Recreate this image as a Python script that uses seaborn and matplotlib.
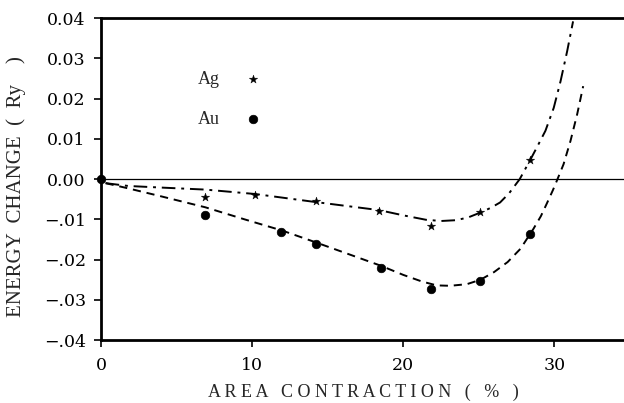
import matplotlib
matplotlib.use("Agg")
import matplotlib.pyplot as plt
import seaborn as sns

# measured points (area contraction %, energy change Ry)
ag_x = [6.9, 10.2, 14.2, 18.4, 21.8, 25.1, 28.4]
ag_y = [-0.0045, -0.0040, -0.0055, -0.0079, -0.0117, -0.0082, 0.0047]
au_x = [0.0, 6.9, 11.9, 14.2, 18.5, 21.8, 25.1, 28.4]
au_y = [0.0, -0.0088, -0.0132, -0.0161, -0.0221, -0.0272, -0.0252, -0.0137]

# fitted curves
ag_fit_x = [0.3, 1.8, 4.0, 6.9, 10.2, 14.0, 18.4, 20.0, 21.5, 22.5, 23.5, 24.3,
            25.1, 25.8, 26.4, 27.0, 27.7, 28.4, 28.85, 29.4, 29.95, 30.4, 30.84, 31.23]
ag_fit_y = [-0.0010, -0.0017, -0.0021, -0.0026, -0.0037, -0.0056, -0.0077, -0.0090,
            -0.0101, -0.0104, -0.0102, -0.0095, -0.0083, -0.0071, -0.0058, -0.0035,
            0.0, 0.0048, 0.0080, 0.0120, 0.0177, 0.0243, 0.0318, 0.0392]
au_fit_x = [0.3, 1.8, 4.0, 6.9, 9.5, 12.0, 14.2, 16.5, 18.5, 20.0, 21.2, 22.2, 23.1,
            24.2, 25.1, 26.0, 26.9, 27.75, 28.6, 29.1, 29.5, 29.9, 30.2, 30.6, 31.06,
            31.5, 31.9]
au_fit_y = [-0.0010, -0.0023, -0.0043, -0.0070, -0.0100, -0.0128, -0.0157, -0.0188,
            -0.0215, -0.0238, -0.0254, -0.0264, -0.0265, -0.0261, -0.0250, -0.0231,
            -0.0206, -0.0173, -0.0124, -0.0092, -0.0060, -0.0027, 0.0, 0.0037, 0.0095,
            0.0161, 0.0231]

yticks = [-0.04, -0.03, -0.02, -0.01, 0.0, 0.01, 0.02, 0.03, 0.04]
ytick_labels = ["\u2212.04", "\u2212.03", "\u2212.02", "\u2212.01", "0.00",
                "0.01", "0.02", "0.03", "0.04"]
xticks = [0, 10, 20, 30]

sns.set_style("ticks")
plt.rcParams["font.family"] = ["Liberation Serif", "DejaVu Serif"]

fig = plt.figure(figsize=(6.24, 4.03), dpi=100)
ax = fig.add_axes([0.162, 0.156, 0.838, 0.799])

ax.axhline(0, color="black", lw=0.9, zorder=1)

# Ag fit: dash-dot, Au fit: dashed
sns.lineplot(x=ag_fit_x, y=ag_fit_y, sort=False, color="black", lw=1.4, ax=ax, zorder=2)
ax.lines[-1].set_linestyle((0, (7, 3, 1.5, 3)))
sns.lineplot(x=au_fit_x, y=au_fit_y, sort=False, color="black", lw=1.4, ax=ax, zorder=2)
ax.lines[-1].set_linestyle((0, (4.2, 3)))

sns.scatterplot(x=ag_x, y=ag_y, marker="*", s=40, color="black",
                edgecolor="black", linewidth=0.3, label="Ag", ax=ax, zorder=3)
sns.scatterplot(x=au_x, y=au_y, marker="o", s=38, color="black",
                edgecolor="black", label="Au", ax=ax, zorder=3, clip_on=False)

ax.set_xlim(0, 34.6)
ax.set_ylim(-0.04, 0.04)
ax.set_xticks(xticks)
ax.set_xticklabels([str(t) for t in xticks], fontsize=12.5, family="DejaVu Serif")
ax.set_yticks(yticks)
ax.set_yticklabels(ytick_labels, fontsize=12.5, family="DejaVu Serif")
ax.tick_params(direction="out", length=5, width=1.2, colors="black")
ax.tick_params(axis="y", pad=6)
ax.tick_params(axis="x", pad=7)

for side in ["left", "top", "bottom"]:
    ax.spines[side].set_visible(True)
    ax.spines[side].set_linewidth(2.0)
    ax.spines[side].set_color("black")
ax.spines["right"].set_visible(False)

ax.set_xlabel("A R E A   C O N T R A C T I O N   (   %   )", fontsize=13)
ax.set_ylabel("ENERGY  CHANGE  (  Ry    )", fontsize=15)
ax.xaxis.set_label_coords(0.502, -0.135)
ax.yaxis.set_label_coords(-0.143, 0.478)

ax.legend(loc="upper left", bbox_to_anchor=(0.153, 0.886), frameon=False,
          markerfirst=False, fontsize=13, labelspacing=1.28,
          handletextpad=1.45, handlelength=0.8)

fig.savefig("out.png", dpi=100)
